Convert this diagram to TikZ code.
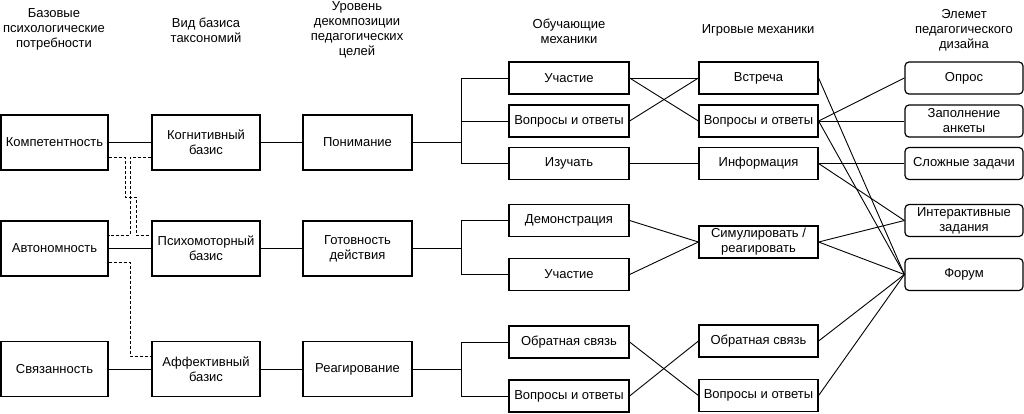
\documentclass[tikz,border=0pt]{standalone}
\usepackage{fontspec}
\setmainfont{Liberation Sans}
\begin{document}
\begin{tikzpicture}[x=1pt, y=-1pt,
  box/.style={draw, line width=1.2pt, fill=white, align=center, inner sep=1pt, font=\fontsize{13}{15}\selectfont},
  need/.style={box, minimum width=107pt, minimum height=55pt},
  basis/.style={box, minimum width=108pt, minimum height=55pt},
  goal/.style={box, minimum width=109pt, minimum height=55pt},
  mech/.style={box, minimum width=120pt, minimum height=32pt},
  game/.style={box, minimum width=119pt, minimum height=32pt},
  elem/.style={box, rounded corners=4pt, minimum width=118pt, minimum height=32pt},
  head/.style={align=center, font=\fontsize{13}{15}\selectfont},
  link/.style={line width=0.9pt},
  dashlink/.style={line width=0.9pt, dashed, dash pattern=on 3pt off 2pt}
]
\useasboundingbox (0,0) rectangle (1024,414);

\node[head] (hneed) at (54,29.5) {Базовые\\психологические\\потребности};
\node[head] (hbasis) at (206,30) {Вид базиса\\таксономий};
\node[head] (hgoal) at (357,29.5) {Уровень\\декомпозиции\\педагогических\\целей};
\node[head] (hmech) at (569,31) {Обучающие\\механики};
\node[head] (hgame) at (758,30) {Игровые механики};
\node[head] (helem) at (964,30) {Элемет\\педагогического\\дизайна};

\node[need] (komp) at (54.5,142.5) {Компетентность};
\node[need] (avt) at (54.5,248.5) {Автономность};
\node[need] (svz) at (54.5,369) {Связанность};

\node[basis] (kog) at (206,142.5) {Когнитивный\\базис};
\node[basis] (psy) at (206,248.5) {Психомоторный\\базис};
\node[basis] (aff) at (206,369) {Аффективный\\базис};

\node[goal] (und) at (357.5,142.5) {Понимание};
\node[goal] (rdy) at (357.5,248.5) {Готовность\\действия};
\node[goal] (rea) at (357.5,369) {Реагирование};

\node[mech] (mpart) at (569,78) {Участие};
\node[mech] (mqa) at (569,121) {Вопросы и ответы};
\node[mech] (mstudy) at (569,163.5) {Изучать};
\node[mech] (mdemo) at (569,220.5) {Демонстрация};
\node[mech] (mpart2) at (569,274.5) {Участие};
\node[mech] (mfb) at (569,342) {Обратная связь};
\node[mech] (mqa2) at (569,396) {Вопросы и ответы};

\node[game] (gmeet) at (758.5,78) {Встреча};
\node[game] (gqa) at (758.5,121) {Вопросы и ответы};
\node[game] (ginfo) at (758.5,163.5) {Информация};
\node[game] (gsim) at (758.5,242) {Симулировать /\\реагировать};
\node[game] (gfb) at (758.5,341) {Обратная связь};
\node[game] (gqa2) at (758.5,395.5) {Вопросы и ответы};

\node[elem] (epoll) at (964,78) {Опрос};
\node[elem] (eform) at (964,121) {Заполнение\\анкеты};
\node[elem] (ehard) at (964,163.5) {Сложные задачи};
\node[elem] (einter) at (964,220.5) {Интерактивные\\задания};
\node[elem] (eforum) at (964,274.5) {Форум};

\draw[link] (komp) -- (kog);
\draw[link] (avt) -- (psy);
\draw[link] (svz) -- (aff);
\draw[link] (kog) -- (und);
\draw[link] (psy) -- (rdy);
\draw[link] (aff) -- (rea);

\draw[dashlink] ([yshift=-15pt]komp.east) -| (125,197) -| (136,235) -- ([yshift=13.5pt]psy.west);
\draw[dashlink] ([yshift=-15pt]kog.west) -| (130,235) -- ([yshift=13.5pt]avt.east);
\draw[dashlink] ([yshift=-13.5pt]avt.east) -| (130,356) -- ([yshift=13pt]aff.west);

\coordinate (br1) at (461,142.5);
\coordinate (br2) at (461,248.5);
\coordinate (br3) at (461,369);
\draw[link] (und) -- (br1);
\draw[link] (mpart.west) -| (br1);
\draw[link] (mqa.west) -- (mqa.west -| br1);
\draw[link] (mstudy.west) -| (br1);
\draw[link] (rdy) -- (br2);
\draw[link] (mdemo.west) -| (br2);
\draw[link] (mpart2.west) -| (br2);
\draw[link] (rea) -- (br3);
\draw[link] (mfb.west) -| (br3);
\draw[link] (mqa2.west) -| (br3);

\draw[link] (mpart.east) -- (gmeet.west);
\draw[link] (mpart.east) -- (gqa.west);
\draw[link] (mqa.east) -- (gmeet.west);
\draw[link] (mstudy.east) -- (ginfo.west);
\draw[link] (mdemo.east) -- (gsim.west);
\draw[link] (mpart2.east) -- (gsim.west);
\draw[link] (mfb.east) -- (gqa2.west);
\draw[link] (mqa2.east) -- (gfb.west);

\draw[link] (gmeet.east) -- (eforum.west);
\draw[link] (gqa.east) -- (epoll.west);
\draw[link] (gqa.east) -- (eform.west);
\draw[link] (gqa.east) -- (eforum.west);
\draw[link] (ginfo.east) -- (ehard.west);
\draw[link] (ginfo.east) -- (einter.west);
\draw[link] (gsim.east) -- (einter.west);
\draw[link] (gsim.east) -- (eforum.west);
\draw[link] (gfb.east) -- (eforum.west);
\draw[link] (gqa2.east) -- (eforum.west);
\end{tikzpicture}
\end{document}
